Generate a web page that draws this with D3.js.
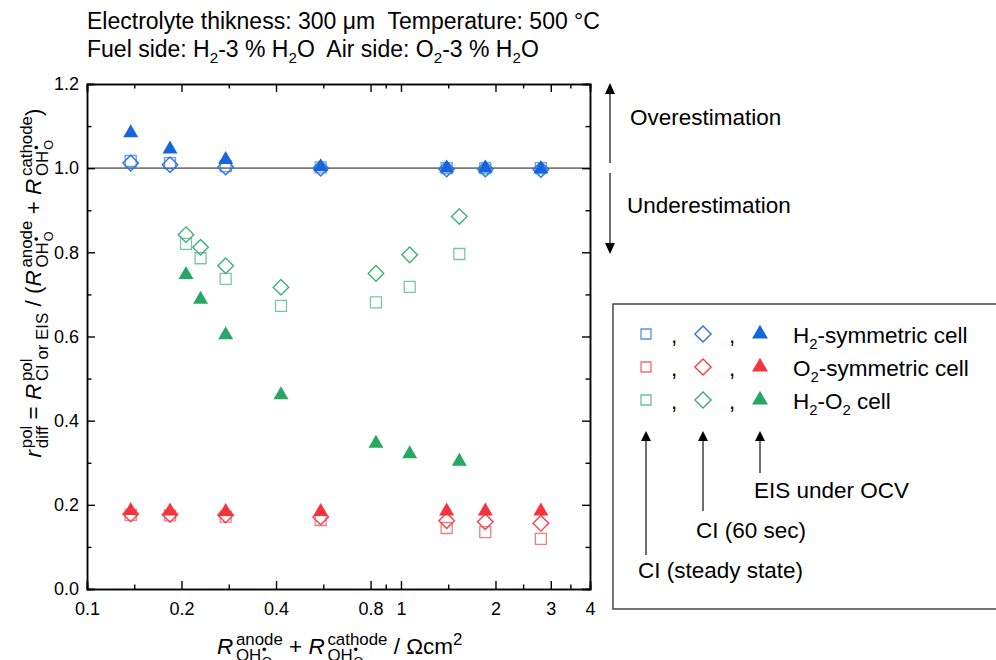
<!DOCTYPE html>
<html>
<head>
<meta charset="utf-8">
<script src="https://cdn.jsdelivr.net/npm/d3@7/dist/d3.min.js"></script>
<style>
  html, body { margin: 0; padding: 0; background: #ffffff; }
  svg text { white-space: pre; font-family: "Liberation Sans", Arial, sans-serif; fill: #000; }
</style>
</head>
<body>
<svg id="chart" width="996" height="660"></svg>
<script>
// ---- data ---------------------------------------------------------------
// x: R(anode) + R(cathode) in Ωcm², symmetric cells share the same x values
const xSymmetric = [0.1378, 0.1838, 0.2765, 0.555, 1.398, 1.856, 2.79];
const xFullCell  = [0.2067, 0.230, 0.2765, 0.4148, 0.8324, 1.066, 1.534];

// H2-symmetric cell
const h2SteadyCI = [1.017, 1.012, 1.005, 1.002, 1.000, 1.000, 1.000];
const h2Ci60     = [1.012, 1.008, 1.003, 1.000, 0.998, 0.998, 0.997];
const h2Eis      = [1.084, 1.045, 1.020, 1.003, 1.000, 1.000, 0.998];

// O2-symmetric cell
const o2SteadyCI = [0.176, 0.175, 0.172, 0.164, 0.145, 0.135, 0.119];
const o2Ci60     = [0.178, 0.177, 0.176, 0.171, 0.162, 0.160, 0.156];
const o2Eis      = [0.186, 0.185, 0.184, 0.184, 0.185, 0.185, 0.185];

// H2-O2 cell
const cellSteadyCI = [0.820, 0.786, 0.737, 0.673, 0.681, 0.718, 0.796];
const cellCi60     = [0.842, 0.812, 0.768, 0.717, 0.750, 0.794, 0.885];
const cellEis      = [0.747, 0.688, 0.604, 0.461, 0.346, 0.321, 0.303];

// axis ticks
const xMajorTicks = [0.1, 0.2, 0.4, 0.8, 1, 2, 3, 4];
const yMajorTicks = [0, 0.2, 0.4, 0.6, 0.8, 1.0, 1.2];
const yMinorTicks = [0.1, 0.3, 0.5, 0.7, 0.9, 1.1];

const cellNames = ["H2-symmetric cell", "O2-symmetric cell", "H2-O2 cell"];
const methodNames = ["CI (steady state)", "CI (60 sec)", "EIS under OCV"];

// ---- styling ---------------------------------------------------------------
const colBlue = "#1566dc", colRed = "#f5333d", colGreen = "#27a664";
const outBlue = "#2d74e2", outRed = "#f4434b", outGreen = "#3fb174";
const FONT = 22.5, TITLE_FONT = 23, TICK_FONT = 18;
const SCRIPT_TEXT = 0.66, SCRIPT_AXIS = 0.75;

const svg = d3.select("#chart");

const x = d3.scaleLog().domain([0.1, 4]).range([87, 590]);
const y = d3.scaleLinear().domain([0, 1.2]).range([589, 84]);

// minor ticks on the log axis sit halfway (in log space) between labelled ticks
const xMinorTicks = d3.pairs(xMajorTicks).map(([a, b]) => Math.sqrt(a * b));

// ---- rich text (stacked super/subscripts) -------------------------------
function rich(g, items, x0, y0, size, script = SCRIPT_TEXT) {
  let cx = x0;
  for (const it of items) {
    if (typeof it === "string" || it.t !== undefined) {
      const str = typeof it === "string" ? it : it.t;
      const t = g.append("text")
        .attr("x", cx).attr("y", y0)
        .attr("font-size", size)
        .attr("xml:space", "preserve")
        .text(str);
      if (it.i) t.attr("font-style", "italic");
      cx += t.node().getComputedTextLength();
    } else if (it.gap !== undefined) {
      cx += it.gap * size;
    } else {
      const s = size * script;
      let a = cx, b = cx;
      if (it.sup) a = rich(g, it.sup, cx, y0 - size * 0.42, s, script);
      if (it.sub) b = rich(g, it.sub, cx, y0 + size * 0.30, s, script);
      cx = Math.max(a, b);
    }
  }
  return cx;
}
function subscripted(str) {
  // "H2-O2 cell" -> H, sub 2, -O, sub 2, " cell"
  const out = [];
  str.split(/(\d)/).forEach(p => {
    if (p === "") return;
    if (/^\d$/.test(p) && out.length && /[HO]$/.test(out[out.length - 1])) out.push({ sub: [p] });
    else out.push(p);
  });
  return out;
}

// ---- plot area ----------------------------------------------------------
const plot = svg.append("g");

// reference line at r = 1
plot.append("line")
  .attr("x1", x.range()[0]).attr("x2", x.range()[1])
  .attr("y1", y(1)).attr("y2", y(1))
  .attr("stroke", "#7a7a7a").attr("stroke-width", 1.8);

// axes on all four sides, ticks pointing inward
function styleAxis(g) {
  g.selectAll(".domain").attr("stroke", "#000").attr("stroke-width", 1.5);
  g.selectAll(".tick line").attr("stroke", "#000").attr("stroke-width", 1.4);
  g.selectAll("text").attr("font-size", TICK_FONT)
    .attr("font-family", "Liberation Sans, Arial, sans-serif").attr("fill", "#000");
}
const fmtX = d => String(d);
const fmtY = d3.format(".1f");

svg.append("g").attr("transform", `translate(0,${y(0)})`)
  .call(d3.axisBottom(x).tickValues(xMajorTicks).tickFormat(fmtX).tickSize(-8).tickPadding(13))
  .call(styleAxis);
svg.append("g").attr("transform", `translate(0,${y(0)})`)
  .call(d3.axisBottom(x).tickValues(xMinorTicks).tickFormat("").tickSize(-4.5))
  .call(styleAxis);
svg.append("g").attr("transform", `translate(0,${y(1.2)})`)
  .call(d3.axisTop(x).tickValues(xMajorTicks).tickFormat("").tickSize(-8))
  .call(styleAxis);
svg.append("g").attr("transform", `translate(0,${y(1.2)})`)
  .call(d3.axisTop(x).tickValues(xMinorTicks).tickFormat("").tickSize(-4.5))
  .call(styleAxis);
svg.append("g").attr("transform", `translate(${x(0.1)},0)`)
  .call(d3.axisLeft(y).tickValues(yMajorTicks).tickFormat(fmtY).tickSize(-8).tickPadding(8))
  .call(styleAxis);
svg.append("g").attr("transform", `translate(${x(0.1)},0)`)
  .call(d3.axisLeft(y).tickValues(yMinorTicks).tickFormat("").tickSize(-4.5))
  .call(styleAxis);
svg.append("g").attr("transform", `translate(${x(4)},0)`)
  .call(d3.axisRight(y).tickValues(yMajorTicks).tickFormat("").tickSize(-8))
  .call(styleAxis);
svg.append("g").attr("transform", `translate(${x(4)},0)`)
  .call(d3.axisRight(y).tickValues(yMinorTicks).tickFormat("").tickSize(-4.5))
  .call(styleAxis);

// ---- markers --------------------------------------------------------------
const squareSym = d3.symbol(d3.symbolSquare, 121);
const triSym = d3.symbol(d3.symbolTriangle, 97);

function drawSquares(xs, ys, color) {
  plot.append("g").selectAll("path").data(ys).join("path")
    .attr("d", squareSym)
    .attr("transform", (d, i) => `translate(${x(xs[i])},${y(d)})`)
    .attr("fill", "none").attr("stroke", color).attr("stroke-width", 1.3)
    .attr("stroke-opacity", 0.7);
}
function drawDiamonds(xs, ys, color) {
  plot.append("g").selectAll("path").data(ys).join("path")
    .attr("d", squareSym)
    .attr("transform", (d, i) => `translate(${x(xs[i])},${y(d)}) rotate(45)`)
    .attr("fill", "none").attr("stroke", color).attr("stroke-width", 1.4);
}
function drawTriangles(xs, ys, color) {
  plot.append("g").selectAll("path").data(ys).join("path")
    .attr("d", triSym)
    .attr("transform", (d, i) => `translate(${x(xs[i])},${y(d)})`)
    .attr("fill", color);
}

drawSquares(xSymmetric, h2SteadyCI, outBlue);
drawSquares(xSymmetric, o2SteadyCI, outRed);
drawSquares(xFullCell, cellSteadyCI, outGreen);
drawDiamonds(xSymmetric, h2Ci60, outBlue);
drawDiamonds(xSymmetric, o2Ci60, outRed);
drawDiamonds(xFullCell, cellCi60, outGreen);
drawTriangles(xSymmetric, h2Eis, colBlue);
drawTriangles(xSymmetric, o2Eis, colRed);
drawTriangles(xFullCell, cellEis, colGreen);

// ---- title ----------------------------------------------------------------
const title = svg.append("g");
rich(title, ["Electrolyte thikness: 300 \u03BCm  Temperature: 500 \u00B0C"], 87, 28.5, TITLE_FONT);
rich(title, ["Fuel side: H", { sub: ["2"] }, "-3 % H", { sub: ["2"] }, "O  Air side: O", { sub: ["2"] },
  "-3 % H", { sub: ["2"] }, "O"], 87, 56.5, TITLE_FONT);

// ---- axis titles ----------------------------------------------------------
const OHo = ["OH", { gap: 0.05 }, { sup: ["\u2022"], sub: ["O"] }];

const xTitle = svg.append("g");
rich(xTitle, [
  { t: "R", i: true }, { gap: 0.12 }, { sup: ["anode"], sub: OHo }, " + ",
  { t: "R", i: true }, { gap: 0.12 }, { sup: ["cathode"], sub: OHo }, " / \u03A9cm", { sup: ["2"] }
], 0, 0, FONT, SCRIPT_AXIS);
xTitle.attr("transform", "translate(217,654)");

const yTitle = svg.append("g");
const yTitleInner = yTitle.append("g");
const yw = rich(yTitleInner, [
  { t: "r", i: true }, { gap: 0.08 }, { sup: ["pol"], sub: ["diff"] }, " = ",
  { t: "R", i: true }, { gap: 0.12 }, { sup: ["pol"], sub: ["CI or EIS"] }, " / (",
  { t: "R", i: true }, { gap: 0.12 }, { sup: ["anode"], sub: OHo }, " + ",
  { t: "R", i: true }, { gap: 0.12 }, { sup: ["cathode"], sub: OHo }, ")"
], 0, 0, FONT, SCRIPT_AXIS);
yTitleInner.attr("transform", `translate(${-yw / 2},0)`);
yTitle.attr("transform", "translate(41,283) rotate(-90)");

// ---- over/under estimation annotation ----------------------------------
const ann = svg.append("g");
function arrow(g, xa, yTail, yTip, head) {
  const dir = yTip < yTail ? -1 : 1;
  g.append("line").attr("x1", xa).attr("x2", xa)
    .attr("y1", yTail).attr("y2", yTip - dir * head.h)
    .attr("stroke", "#222").attr("stroke-width", 1.3);
  g.append("path")
    .attr("d", `M${xa},${yTip} L${xa - head.w / 2},${yTip - dir * head.h} L${xa + head.w / 2},${yTip - dir * head.h} Z`)
    .attr("fill", "#000");
}
arrow(ann, 610, 163, 83, { w: 10, h: 11 });
arrow(ann, 610, 173, 254, { w: 10, h: 11 });
rich(ann, ["Overestimation"], 630, 125, FONT);
rich(ann, ["Underestimation"], 627, 212.5, FONT);

// ---- legend -----------------------------------------------------------------
const leg = svg.append("g");
leg.append("rect").attr("x", 613).attr("y", 304).attr("width", 420).attr("height", 305)
  .attr("fill", "#fff").attr("stroke", "#3a3a3a").attr("stroke-width", 1.4);

const legRows = [
  { name: cellNames[0], out: outBlue, fill: colBlue },
  { name: cellNames[1], out: outRed, fill: colRed },
  { name: cellNames[2], out: outGreen, fill: colGreen }
];
const legSquareX = 646, legDiamondX = 703, legTriX = 760, legTextX = 793;
legRows.forEach((r, i) => {
  const cy = 334 + i * 33;
  leg.append("path").attr("d", d3.symbol(d3.symbolSquare, 100)())
    .attr("transform", `translate(${legSquareX},${cy})`)
    .attr("fill", "none").attr("stroke", r.out).attr("stroke-width", 1.3).attr("stroke-opacity", 0.8);
  leg.append("path").attr("d", d3.symbol(d3.symbolSquare, 130)())
    .attr("transform", `translate(${legDiamondX},${cy}) rotate(45)`)
    .attr("fill", "none").attr("stroke", r.out).attr("stroke-width", 1.4);
  leg.append("path").attr("d", d3.symbol(d3.symbolTriangle, 110)())
    .attr("transform", `translate(${legTriX},${cy})`)
    .attr("fill", r.fill);
  rich(leg, [","], 671, cy + 9, FONT);
  rich(leg, [","], 729, cy + 9, FONT);
  rich(leg, subscripted(r.name), legTextX, cy + 8.5, FONT);
});

// pointers from the symbol columns to the method names
arrow(leg, legSquareX, 555, 431, { w: 10, h: 10 });
arrow(leg, legDiamondX, 511, 431, { w: 10, h: 10 });
arrow(leg, legTriX, 473, 431, { w: 10, h: 10 });
rich(leg, [methodNames[2]], 754, 498, FONT);
rich(leg, [methodNames[1]], 696, 538, FONT);
rich(leg, [methodNames[0]], 638, 578, FONT);
</script>
</body>
</html>
